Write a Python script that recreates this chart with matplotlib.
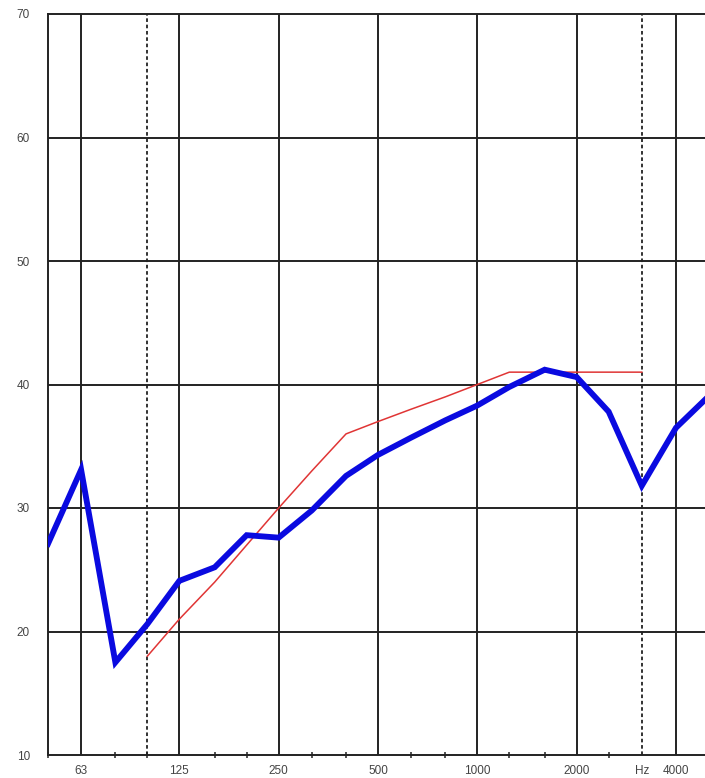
import matplotlib
matplotlib.use("Agg")
import matplotlib.pyplot as plt
import numpy as np
from matplotlib import rcParams
from matplotlib.ticker import FixedLocator, NullFormatter

rcParams.update({
    'font.family': ['Liberation Sans', 'DejaVu Sans'],
    'font.size': 8.5,
})

# third-octave bands (Hz)
freqs = [50, 63, 80, 100, 125, 160, 200, 250, 315, 400, 500, 630, 800,
         1000, 1250, 1600, 2000, 2500, 3150, 4000, 5000]
# measured curve (dB)
measured = [27.1, 33.1, 17.5, 20.6, 24.1, 25.2, 27.8, 27.6, 29.8, 32.6, 34.3,
            35.7, 37.1, 38.3, 39.8, 41.2, 40.6, 37.8, 31.8, 36.5, 39.0]
# shifted reference curve, 100 - 3150 Hz
ref_freqs = [100, 125, 160, 200, 250, 315, 400, 500, 630, 800,
             1000, 1250, 1600, 2000, 2500, 3150]
ref_values = [18, 21, 24, 27, 30, 33, 36, 37, 38, 39, 40, 41, 41, 41, 41, 41]

major_freqs = [63, 125, 250, 500, 1000, 2000, 4000]
dotted_freqs = [100, 3150]
x_labels = {63: '63', 125: '125', 250: '250', 500: '500', 1000: '1000',
            2000: '2000', 3150: 'Hz', 4000: '4000'}
y_ticks = [10, 20, 30, 40, 50, 60, 70]

fig = plt.figure(figsize=(7.05, 7.78), dpi=100)
ax = fig.add_axes([48 / 705, 23 / 778, 660 / 705, 741 / 778])

grid_color = '#222222'
for f in major_freqs:
    ax.axvline(f, color=grid_color, linewidth=1.4, zorder=1)
for f in dotted_freqs:
    ax.axvline(f, color=grid_color, linewidth=1.3, linestyle=(0, (2, 1.5)), zorder=1)
for y in y_ticks[1:-1]:
    ax.axhline(y, color=grid_color, linewidth=1.4, zorder=1)

ax.plot(ref_freqs, ref_values, color='#e03535', linewidth=1.1, zorder=2)
ax.plot(freqs, measured, color='#0a0ae0', linewidth=4.2,
        solid_joinstyle='miter', zorder=3, clip_on=True)

ax.set_xscale('log')
ax.set_xlim(50, 5000)
ax.set_ylim(10, 70)

tick_pos = sorted(x_labels.keys())
ax.xaxis.set_major_locator(FixedLocator(tick_pos))
ax.set_xticklabels([x_labels[f] for f in tick_pos])
ax.xaxis.set_minor_locator(FixedLocator(freqs))
ax.xaxis.set_minor_formatter(NullFormatter())
ax.tick_params(axis='x', which='major', length=0, pad=7, labelcolor='#444444')
ax.tick_params(axis='x', which='minor', length=5, width=1.1, direction='inout',
               color=grid_color)

ax.set_yticks(y_ticks)
ax.tick_params(axis='y', length=0, pad=13, labelcolor='#444444')

for side in ['left', 'top', 'bottom']:
    ax.spines[side].set_color(grid_color)
    ax.spines[side].set_linewidth(1.4)
ax.spines['right'].set_visible(False)

plt.savefig('out.png', dpi=100)
